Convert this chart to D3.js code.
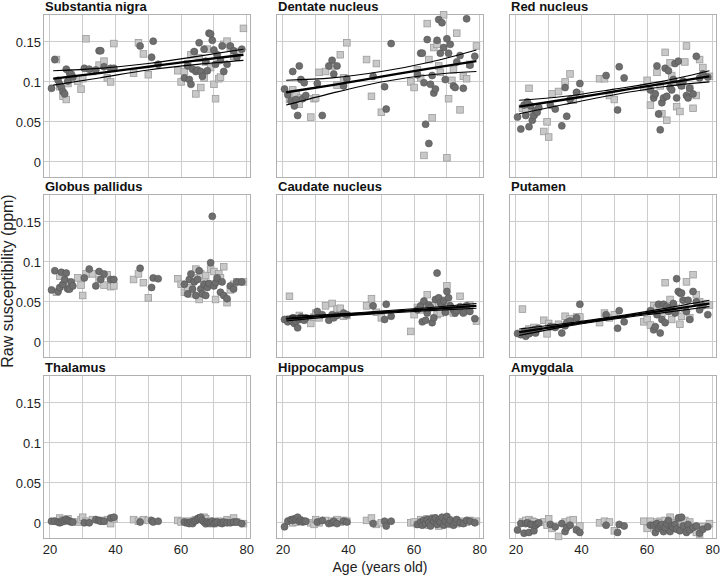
<!DOCTYPE html>
<html><head><meta charset="utf-8">
<script src="https://cdn.jsdelivr.net/npm/d3@7"></script>
<style>body{margin:0;background:#fff}svg{display:block;font-family:"Liberation Sans",Arial,sans-serif}</style>
</head><body><svg id="c" width="720" height="575"></svg>
<script>
// ---- data ----
const panelNames = ["Substantia nigra","Dentate nucleus","Red nucleus","Globus pallidus","Caudate nucleus","Putamen","Thalamus","Hippocampus","Amygdala"];
const xTicks = [20,40,60,80];
const xGrid = [20,30,40,50,60,70,80];
const yTicks = [0,0.05,0.1,0.15];
const yTickLabels = ["0","0.05","0.1","0.15"];

const circleAges = [20.5,21.5,22.5,23,23.5,24,24.5,25,25.5,26,26.5,27,
 30.5,32,34,35,35.5,36.5,38.5,39.5,
 47.5,51,51.5,53,
 61,62,62.5,63,63.5,64,64.5,65,65.5,66,66.5,67,67.5,68,68.5,69,69.5,70,70.5,71,72,72.5,73,74,75,76,77,78.5];
const squareAges = [22,23,24,25,25.5,
 28.5,29.5,30,31,33,35,36.5,37.5,38.5,39.5,
 45.5,47,48.5,50,
 59,60,61,62,63,64,64.5,65.5,66,67,67.5,68,69,70,70.5,71.5,72,73,74,75,76,77,79];

const snCircle = [0.092,0.128,0.102,0.097,0.093,0.088,0.085,0.116,0.101,0.111,0.110,0.106,
 0.117,0.116,0.115,0.139,0.139,0.119,0.117,0.117,
 0.145,0.131,0.151,0.122,
 0.105,0.120,0.103,0.097,0.116,0.138,0.113,0.115,0.149,0.113,0.107,0.141,0.126,0.114,0.161,0.160,0.152,0.140,0.122,0.134,0.127,0.145,0.113,0.122,0.145,0.139,0.131,0.141];
const snSquare = [0.128,0.094,0.082,0.078,0.098,
 0.101,0.091,0.104,0.154,0.113,0.121,0.126,0.105,0.100,0.148,
 0.111,0.149,0.135,0.109,
 0.114,0.100,0.113,0.123,0.134,0.136,0.085,0.130,0.093,0.105,0.125,0.141,0.118,0.097,0.079,0.104,0.106,0.147,0.151,0.143,0.132,0.138,0.167];

const dnCircle = [0.091,0.084,0.076,0.113,0.070,0.078,0.058,0.120,0.103,0.079,0.099,0.083,
 0.098,0.058,0.120,0.127,0.110,0.120,0.095,0.104,
 0.107,0.094,0.066,0.148,
 0.109,0.136,0.136,0.099,0.047,0.153,0.023,0.097,0.108,0.086,0.091,0.152,0.178,0.136,0.174,0.143,0.103,0.154,0.136,0.147,0.095,0.093,0.125,0.133,0.092,0.179,0.121,0.132];
const dnSquare = [0.078,0.090,0.085,0.072,0.080,
 0.056,0.079,0.080,0.112,0.113,0.120,0.096,0.134,0.105,0.149,
 0.128,0.082,0.123,0.062,
 0.100,0.093,0.115,0.105,0.008,0.173,0.128,0.055,0.143,0.147,0.120,0.112,0.184,0.005,0.079,0.102,0.115,0.161,0.065,0.107,0.104,0.122,0.145];

const rnCircle = [0.056,0.041,0.071,0.058,0.075,0.044,0.070,0.052,0.058,0.064,0.062,0.068,
 0.071,0.066,0.045,0.093,0.057,0.078,0.087,0.098,
 0.108,0.065,0.119,0.105,
 0.090,0.080,0.085,0.120,0.060,0.040,0.074,0.080,0.117,0.082,0.114,0.093,0.090,0.103,0.123,0.080,0.126,0.098,0.095,0.101,0.083,0.080,0.092,0.085,0.132,0.105,0.110,0.106];
const rnSquare = [0.067,0.066,0.092,0.063,0.060,
 0.038,0.050,0.031,0.085,0.088,0.100,0.110,0.077,0.085,0.084,
 0.104,0.104,0.083,0.078,
 0.093,0.102,0.071,0.085,0.112,0.095,0.060,0.137,0.052,0.124,0.108,0.100,0.069,0.063,0.096,0.125,0.145,0.092,0.067,0.083,0.128,0.118,0.107];

const gpCircle = [0.065,0.089,0.063,0.068,0.087,0.072,0.078,0.086,0.066,0.066,0.075,0.070,
 0.080,0.091,0.070,0.088,0.078,0.085,0.078,0.078,
 0.092,0.068,0.080,0.079,
 0.072,0.060,0.078,0.085,0.066,0.075,0.058,0.078,0.089,0.066,0.060,0.072,0.058,0.068,0.073,0.099,0.157,0.070,0.074,0.080,0.062,0.075,0.058,0.054,0.070,0.066,0.075,0.075];
const gpSquare = [0.062,0.082,0.070,0.075,0.068,
 0.080,0.071,0.058,0.085,0.085,0.078,0.071,0.084,0.069,0.070,
 0.078,0.085,0.074,0.055,
 0.079,0.072,0.062,0.068,0.060,0.080,0.091,0.053,0.085,0.076,0.083,0.072,0.091,0.088,0.053,0.085,0.080,0.094,0.049,0.065,0.072,0.075,0.075];

const cnCircle = [0.028,0.025,0.027,0.030,0.023,0.026,0.0175,0.028,0.031,0.029,0.027,0.030,
 0.038,0.034,0.027,0.034,0.030,0.033,0.036,0.034,
 0.045,0.028,0.047,0.032,
 0.040,0.045,0.025,0.051,0.027,0.036,0.046,0.043,0.024,0.030,0.053,0.086,0.055,0.049,0.046,0.051,0.037,0.063,0.055,0.045,0.040,0.036,0.039,0.044,0.036,0.045,0.038,0.029];
const cnSquare = [0.057,0.026,0.030,0.033,0.028,
 0.023,0.031,0.036,0.030,0.045,0.048,0.041,0.042,0.032,0.033,
 0.045,0.054,0.037,0.030,
 0.013,0.034,0.043,0.040,0.045,0.059,0.044,0.045,0.045,0.034,0.047,0.036,0.052,0.070,0.045,0.038,0.036,0.040,0.057,0.038,0.044,0.046,0.026];

const ptCircle = [0.0105,0.009,0.013,0.007,0.012,0.010,0.013,0.014,0.015,0.011,0.016,0.017,
 0.019,0.018,0.011,0.020,0.024,0.026,0.030,0.047,
 0.034,0.017,0.039,0.025,
 0.039,0.015,0.019,0.034,0.047,0.011,0.028,0.047,0.024,0.044,0.038,0.042,0.040,0.048,0.036,0.079,0.063,0.061,0.061,0.052,0.038,0.052,0.028,0.063,0.050,0.040,0.045,0.034];
const ptSquare = [0.041,0.013,0.016,0.012,0.018,
 0.027,0.010,0.023,0.019,0.022,0.032,0.029,0.025,0.031,0.031,
 0.024,0.036,0.030,0.034,
 0.025,0.028,0.021,0.045,0.042,0.040,0.035,0.074,0.041,0.053,0.028,0.045,0.042,0.022,0.032,0.042,0.075,0.030,0.084,0.059,0.050,0.048,0.046];

const thCircle = [0.002,0.002,0.001,0.000,0.001,0.003,0.002,0.004,0.003,0.002,0.001,0.001,
 0.000,0.000,0.004,0.003,0.002,0.002,0.006,0.007,
 0.001,0.003,0.001,0.002,
 0.001,0.000,-0.001,0.001,-0.001,0.002,0.003,0.005,0.006,0.007,0.003,0.001,-0.001,0.001,0.000,0.000,0.002,-0.001,0.000,0.001,0.000,-0.001,0.001,0.000,0.000,0.001,0.001,-0.001];
const thSquare = [0.002,0.006,0.004,0.003,0.005,
 0.001,0.004,0.007,0.002,0.004,0.003,0.002,0.004,-0.001,0.005,
 0.004,0.002,0.004,0.003,
 0.003,0.001,0.002,0.000,0.002,0.003,0.004,0.005,0.006,0.007,0.005,-0.001,0.002,-0.001,0.001,0.002,0.000,0.001,0.004,0.002,0.006,0.001,-0.001];

const hpCircle = [-0.005,0.002,0.004,0.003,0.005,0.004,0.007,0.002,0.003,0.001,0.002,0.002,
 0.001,0.003,-0.001,0.000,0.002,-0.001,0.002,0.001,
 -0.001,0.002,-0.004,0.002,
 -0.002,0.001,-0.003,0.003,-0.001,0.004,0.000,-0.004,0.005,0.002,0.006,-0.002,0.003,0.001,0.007,-0.003,0.002,0.008,-0.001,0.003,-0.003,0.001,0.004,0.000,-0.001,0.003,0.002,0.000];
const hpSquare = [0.002,0.000,0.001,0.004,0.002,
 0.000,-0.002,0.004,0.000,0.003,0.002,0.004,0.001,0.003,0.002,
 0.003,0.006,-0.002,0.000,
 0.000,0.001,-0.002,0.004,0.002,0.005,-0.003,0.001,0.006,0.003,-0.004,0.002,0.005,-0.002,0.004,0.001,0.003,-0.001,0.002,0.000,0.001,0.003,0.002];

const amCircle = [-0.009,-0.001,-0.013,-0.001,0.000,-0.012,-0.002,-0.002,-0.010,-0.003,-0.001,0.000,
 -0.002,-0.005,-0.001,-0.011,-0.006,-0.003,-0.009,-0.012,
 -0.003,-0.012,-0.002,-0.004,
 -0.003,-0.003,-0.012,-0.001,-0.007,-0.004,-0.002,-0.011,-0.006,-0.001,0.003,-0.011,-0.004,-0.006,-0.002,-0.008,0.006,-0.010,0.007,-0.004,-0.012,-0.002,-0.009,-0.006,-0.004,-0.013,-0.008,-0.005];
const amSquare = [0.001,0.003,0.004,0.002,0.001,
 0.001,-0.003,0.005,-0.007,-0.017,0.001,0.003,0.004,-0.008,-0.004,
 0.000,0.002,0.001,-0.010,
 0.002,-0.007,0.002,-0.005,0.001,0.002,0.000,0.003,-0.004,0.007,-0.003,0.000,-0.002,0.006,-0.006,0.003,-0.004,0.001,-0.008,-0.012,-0.015,-0.005,-0.001];

const fitAges = [21,35,50,65,79];
const snFit = [0.104,0.111,0.119,0.127,0.134], snUp = [0.114,0.117,0.123,0.132,0.141], snLo = [0.096,0.105,0.115,0.122,0.127];
const dnFit = [0.087,0.096,0.1065,0.117,0.126], dnUp = [0.102,0.105,0.113,0.125,0.140], dnLo = [0.071,0.086,0.100,0.109,0.113];
const rnFit = [0.069,0.078,0.088,0.098,0.107], rnUp = [0.077,0.082,0.091,0.101,0.114], rnLo = [0.060,0.072,0.084,0.094,0.100];
const cnFit = [0.029,0.033,0.037,0.041,0.045], cnUp = [0.032,0.0345,0.0385,0.043,0.048], cnLo = [0.026,0.0315,0.0355,0.039,0.042];
const ptFit = [0.012,0.021,0.030,0.039,0.048], ptUp = [0.016,0.023,0.0315,0.0415,0.052], ptLo = [0.008,0.019,0.0285,0.0365,0.044];

const panelCircles = [snCircle,dnCircle,rnCircle,gpCircle,cnCircle,ptCircle,thCircle,hpCircle,amCircle];
const panelSquares = [snSquare,dnSquare,rnSquare,gpSquare,cnSquare,ptSquare,thSquare,hpSquare,amSquare];
const panelFits = [[snFit,snUp,snLo],[dnFit,dnUp,dnLo],[rnFit,rnUp,rnLo],null,[cnFit,cnUp,cnLo],[ptFit,ptUp,ptLo],null,null,null];

// ---- layout ----
const colLeft = [43,276,509], pw = 207;
const rowTop = [14,194,375], ph = 163;
const svg = d3.select("#c");
const x = d3.scaleLinear().domain([17.9,81]).range([0,pw]);
const y = d3.scaleLinear().domain([-0.019,0.185]).range([ph,0]);

panelNames.forEach((name,i)=>{
  const r = Math.floor(i/3), c = i%3;
  const g = svg.append("g").attr("transform",`translate(${colLeft[c]},${rowTop[r]})`);
  // grid
  g.selectAll(".gx").data(xGrid).join("line").attr("x1",d=>x(d)).attr("x2",d=>x(d)).attr("y1",0).attr("y2",ph)
    .attr("stroke","#cdcdcd").attr("stroke-width",1).attr("shape-rendering","crispEdges");
  g.selectAll(".gy").data(yTicks).join("line").attr("y1",d=>y(d)).attr("y2",d=>y(d)).attr("x1",0).attr("x2",pw)
    .attr("stroke","#cdcdcd").attr("stroke-width",1).attr("shape-rendering","crispEdges");
  g.append("rect").attr("x",0).attr("y",0).attr("width",pw).attr("height",ph).attr("fill","none")
    .attr("stroke","#b0b0b0").attr("stroke-width",1).attr("shape-rendering","crispEdges");
  // squares
  const sq = panelSquares[i];
  g.selectAll(".sq").data(squareAges.map((a,k)=>[a,sq[k]])).join("rect")
    .attr("x",d=>x(d[0])-3.3).attr("y",d=>y(d[1])-3.3).attr("width",6.6).attr("height",6.6)
    .attr("fill","#c8c8c8").attr("stroke","#9c9c9c").attr("stroke-width",0.8);
  // circles
  const ci = panelCircles[i];
  g.selectAll(".ci").data(circleAges.map((a,k)=>[a,ci[k]])).join("circle")
    .attr("cx",d=>x(d[0])).attr("cy",d=>y(d[1])).attr("r",3.5)
    .attr("fill","#6e6e6e").attr("stroke","#555").attr("stroke-width",0.6);
  // fits
  const f = panelFits[i];
  if(f){
    const line = d3.line().x(d=>x(d[0])).y(d=>y(d[1])).curve(d3.curveMonotoneX);
    [f[1],f[2]].forEach(arr=>{
      g.append("path").attr("d",line(fitAges.map((a,k)=>[a,arr[k]]))).attr("fill","none").attr("stroke","#000").attr("stroke-width",1.1);
    });
    g.append("path").attr("d",line(fitAges.map((a,k)=>[a,f[0][k]]))).attr("fill","none").attr("stroke","#000").attr("stroke-width",2.3);
  }
  // title
  g.append("text").attr("x",2).attr("y",-3).attr("font-size",13).attr("font-weight","bold").attr("fill","#111").text(name);
  // y tick labels
  if(c===0){
    g.selectAll(".yl").data(yTicks).join("text").attr("x",-2).attr("y",d=>y(d)+4.7).attr("text-anchor","end")
      .attr("font-size",13).attr("fill","#222").text((d,k)=>yTickLabels[k]);
  }
  if(r===2){
    g.selectAll(".xl").data(xTicks).join("text").attr("x",d=>x(d)).attr("y",ph+16).attr("text-anchor","middle")
      .attr("font-size",13).attr("fill","#222").text(d=>d);
  }
});
svg.append("text").attr("transform","translate(13,281) rotate(-90)").attr("text-anchor","middle")
  .attr("font-size",16).attr("fill","#222").text("Raw susceptibility (ppm)");
svg.append("text").attr("x",380).attr("y",572).attr("text-anchor","middle")
  .attr("font-size",14).attr("fill","#222").text("Age (years old)");
</script></body></html>
